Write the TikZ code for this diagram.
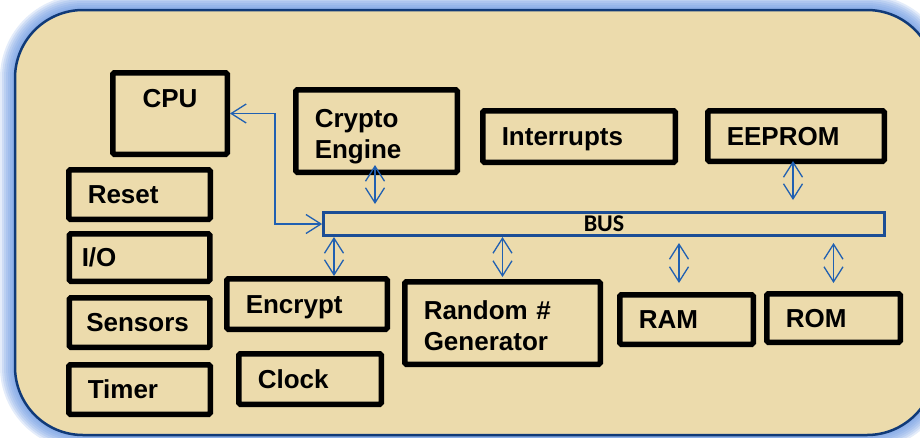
\documentclass[tikz,border=0pt]{standalone}
\usepackage{fontspec}
\setsansfont{Liberation Sans}
\newfontfamily\busfont{Carlito}
\usetikzlibrary{arrows.meta, positioning}
\definecolor{papyrus}{RGB}{236,219,172}
\definecolor{frameblue}{RGB}{16,58,120}
\definecolor{glowblue}{RGB}{105,150,225}
\definecolor{linkblue}{RGB}{32,96,178}
\definecolor{busblue}{RGB}{28,78,150}

\begin{document}
\begin{tikzpicture}[
    x=1pt, y=-1pt,
    box/.style={draw, line width=5.5pt, rounded corners=1.5pt, inner xsep=19pt, inner ysep=0pt, align=left, font=\sffamily\bfseries\fontsize{26}{31}\selectfont},
    oneline/.style={text height=18.7pt, text depth=0pt},
    twoline/.style={text height=23.5pt, text depth=31pt},
    bus/.style={draw=busblue, line width=2.7pt, minimum width=561pt, minimum height=23.3pt, inner sep=0pt, font=\busfont\bfseries\fontsize{24}{28}\selectfont},
    link/.style={{Straight Barb[length=15pt, width=19pt]}-{Straight Barb[length=15pt, width=19pt]}, draw=linkblue, line width=1.3pt}
]
\useasboundingbox (0,0) rectangle (920,437);
\clip (0,0) rectangle (920,437);
\foreach \w in {30,26,...,2}
  \draw[glowblue, line width=\w pt, opacity=0.18, rounded corners=68pt] (15,10) rectangle (935,435);
\draw[frameblue, line width=2.5pt, fill=papyrus, rounded corners=68pt] (15,10) rectangle (935,435);

\node[box, align=center, inner xsep=0pt, text height=18.7pt, text depth=30pt, minimum width=114.5pt, minimum height=81.5pt] (cpu) at (170,113.5) {CPU};
\node[box, twoline, text width=123.5pt, minimum height=82.5pt] (crypto) at (376.5,131) {Crypto\\Engine};
\node[box, oneline, text width=154.5pt, minimum height=51.5pt] (intr) at (579,136.5) {Interrupts};
\node[box, oneline, text width=138.5pt, minimum height=50.5pt] (eeprom) at (796,136) {EEPROM};
\node[bus] (bus) at (604,224) {BUS};

\node[box, oneline, text width=103.5pt, minimum height=49.5pt] (reset) at (139.5,194.5) {Reset};
\node[box, oneline, inner xsep=12.5pt, text width=115.5pt, minimum height=47.5pt, below=9pt of reset] (io) {I/O};
\node[box, oneline, inner xsep=17pt, text width=106.5pt, minimum height=49.5pt, below=11pt of io] (sensors) {Sensors};
\node[box, oneline, text width=103.5pt, minimum height=49.5pt, below=12pt of sensors] (timer) {Timer};

\node[box, oneline, text width=122.5pt, minimum height=50.5pt] (encrypt) at (307,304) {Encrypt};
\node[box, oneline, text width=104.5pt, minimum height=50.5pt, below=19pt of encrypt, xshift=3pt] (clock) {Clock};
\node[box, twoline, text width=157.5pt, minimum height=82.5pt] (random) at (502.5,323) {Random \#\\Generator};
\node[box, oneline, text width=95.5pt, minimum height=49.5pt] (ram) at (686.5,319.5) {RAM};
\node[box, oneline, text width=95.5pt, minimum height=48.5pt] (rom) at (833.5,318) {ROM};

\draw[link] (cpu.east) -- ++(45,0) |- (bus.west);
\draw[link, shorten <=-10pt, shorten >=7pt] ([xshift=-1.5pt]crypto.south) -- ([xshift=-1.5pt]crypto.south |- bus.north);
\draw[link, shorten <=-3pt, shorten >=11pt] ([xshift=-3pt]eeprom.south) -- ([xshift=-3pt]eeprom.south |- bus.north);
\draw[link] ([xshift=27pt]encrypt.north |- bus.south) -- ([xshift=27pt]encrypt.north);
\draw[link, shorten >=2pt] (random.north |- bus.south) -- (random.north);
\draw[link, shorten <=6pt, shorten >=9pt] ([xshift=-7.5pt]ram.north |- bus.south) -- ([xshift=-7.5pt]ram.north);
\draw[link, shorten <=6pt, shorten >=8pt] (rom.north |- bus.south) -- (rom.north);
\end{tikzpicture}
\end{document}
